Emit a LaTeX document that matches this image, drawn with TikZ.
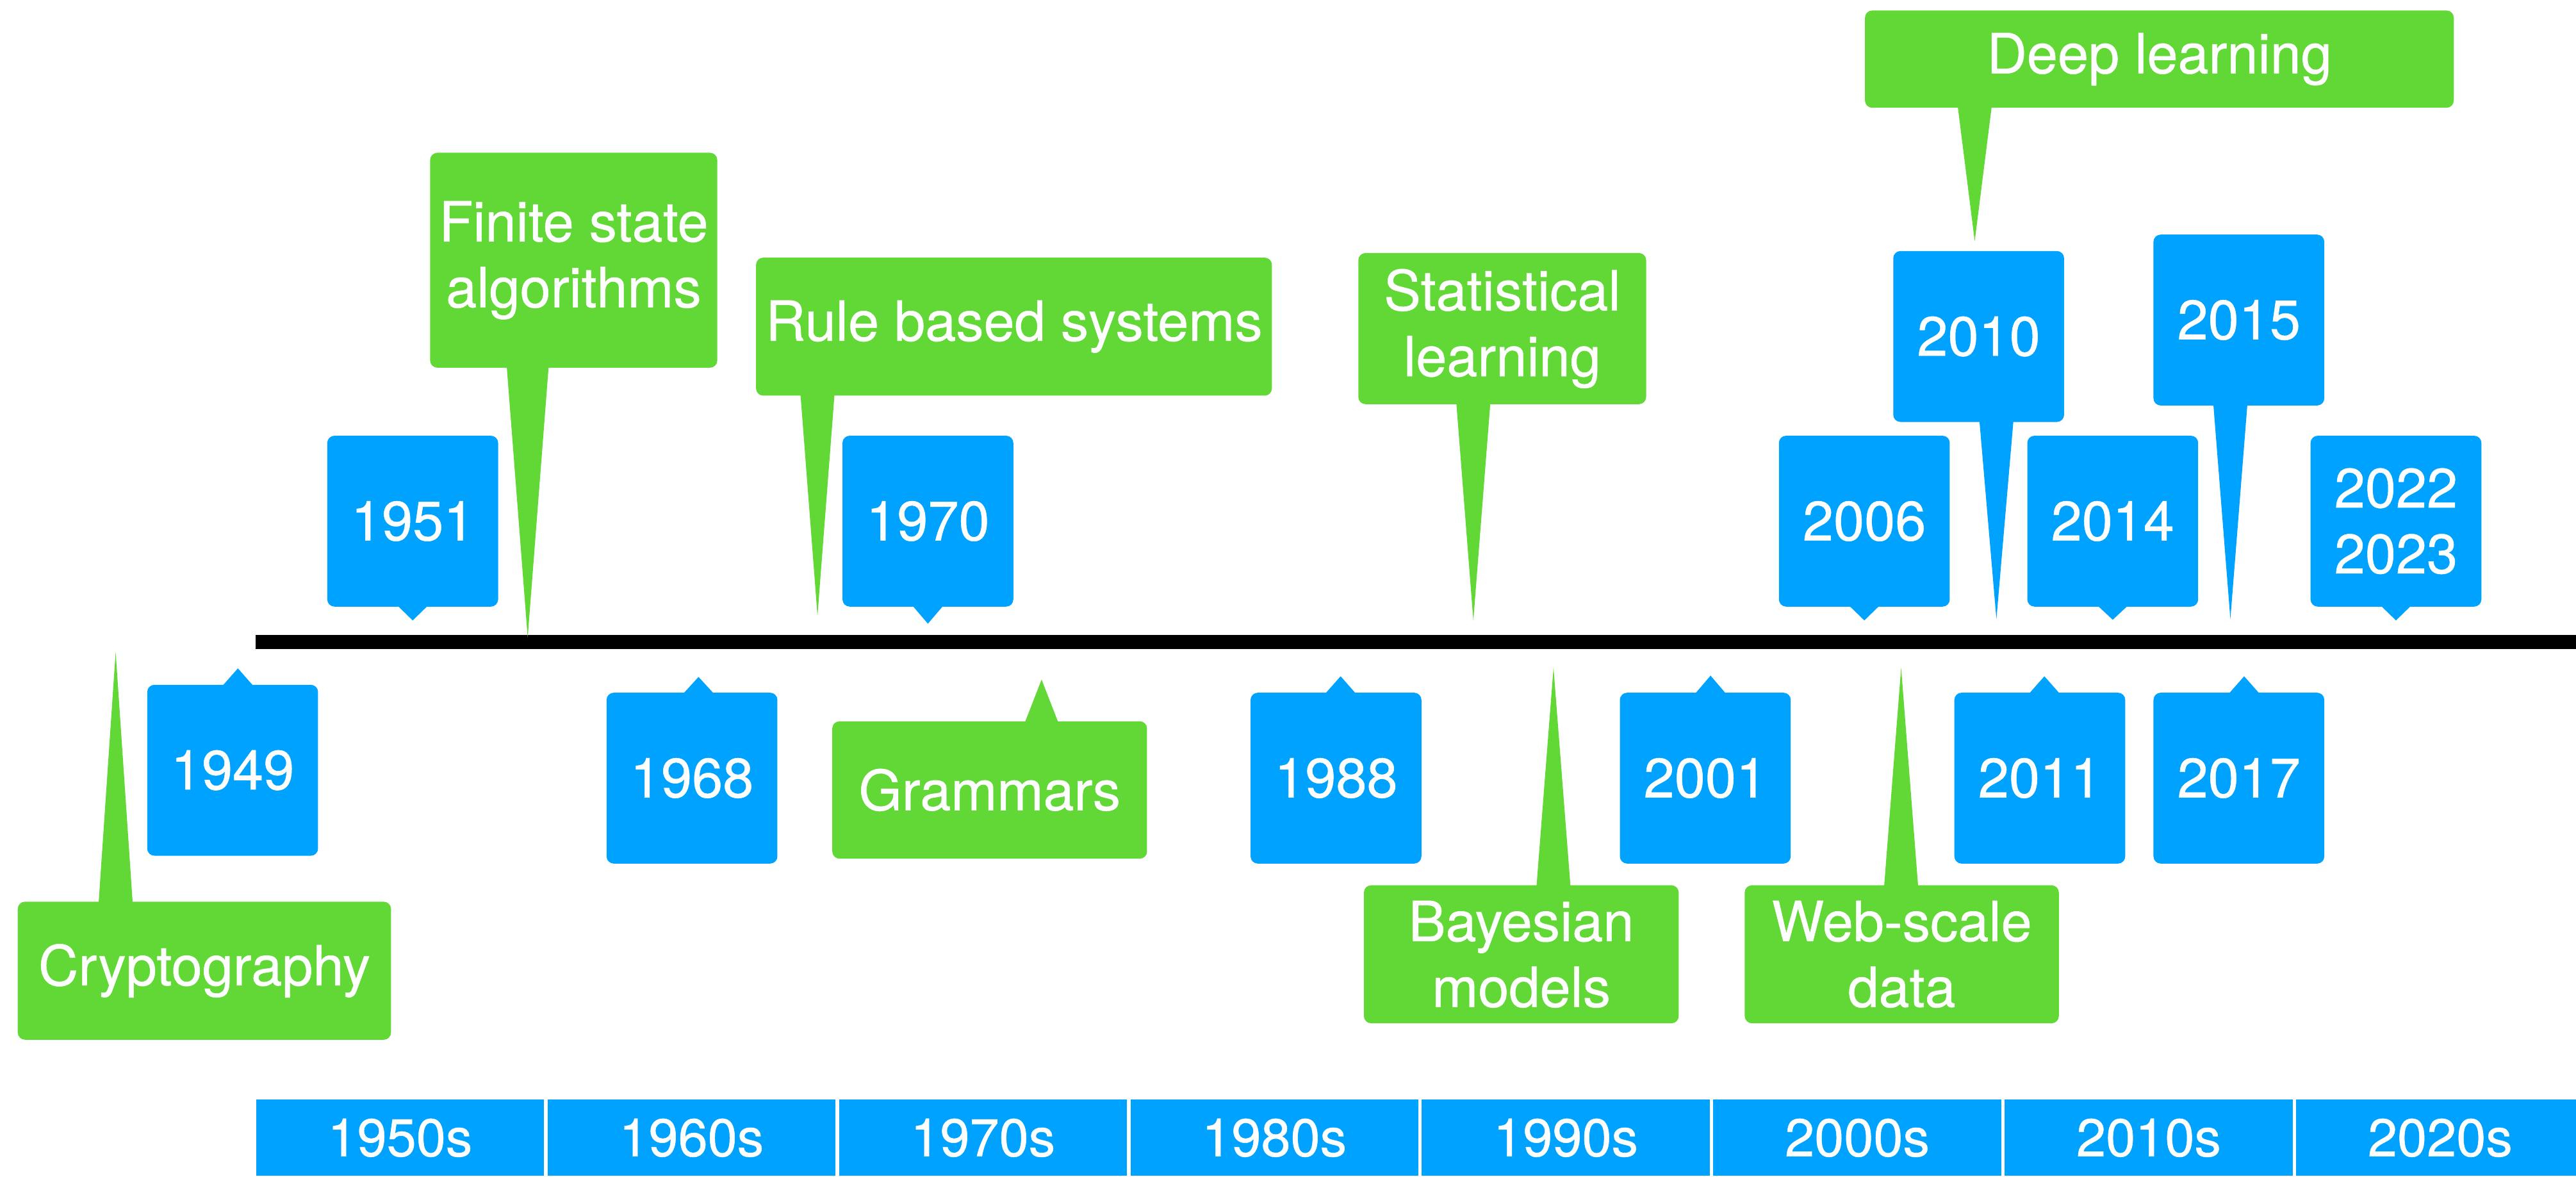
\documentclass[tikz,border=0pt]{standalone}
\usepackage{fontspec}
\setmainfont{TeX Gyre Heros}[FakeBold=0.6]
\usetikzlibrary{calc}

\definecolor{kblue}{HTML}{00A2FF}
\definecolor{kgreen}{HTML}{61D836}

% pointer of a callout: colour, edge anchor of the box, tip, half width of the base
\newcommand{\calltail}[4]{%
  \fill[#1] ($(#3 |- #2)!-0.04cm!(#3)+(-#4,0)$) -- (#3) -- ($(#3 |- #2)!-0.04cm!(#3)+(#4,0)$) -- cycle;}

\begin{document}
\begin{tikzpicture}[
  font=\fontsize{24}{28.5}\selectfont,
  yearbox/.style={fill=kblue, text=white, rounded corners=1.1mm, inner sep=0pt,
    minimum width=2.6cm, minimum height=2.6cm, align=center},
  topicbox/.style={fill=kgreen, text=white, rounded corners=1.1mm, inner sep=0pt, align=center},
  decadebox/.style={fill=kblue, text=white, inner sep=0pt, anchor=south west,
    minimum width=4.38cm, minimum height=1.16cm, font=\fontsize{23}{27}\selectfont},
]
\useasboundingbox (0,0) rectangle (39.2,17.9);

% decades along the bottom
\foreach \d [count=\i from 0] in {1950s,1960s,1970s,1980s,1990s,2000s,2010s,2020s}
  \node[decadebox] (d\d) at (3.89+4.435*\i,0) {\d};

% time axis
\coordinate (axisL) at (3.89,8.13);
\coordinate (axisR) at (39.2,8.13);
\draw[line width=6.1pt] (axisL) -- (axisR);

% years above the axis
\node[yearbox] (y1951) at (6.28,9.97) {1951};
\node[yearbox] (y1970) at (14.12,9.97) {1970};
\node[yearbox] (y2006) at (28.37,9.97) {2006};
\node[yearbox] (y2014) at (32.15,9.97) {2014};
\node[yearbox] (y2022) at (36.46,9.97) {2022\\2023};
\node[yearbox] (y2010) at (30.11,12.78) {2010};
\node[yearbox] (y2015) at (34.07,13.03) {2015};
% years below the axis
\node[yearbox] (y1949) at (3.54,6.18) {1949};
\node[yearbox] (y1968) at (10.53,6.06) {1968};
\node[yearbox] (y1988) at (20.33,6.06) {1988};
\node[yearbox] (y2001) at (25.95,6.06) {2001};
\node[yearbox] (y2011) at (31.04,6.06) {2011};
\node[yearbox] (y2017) at (34.07,6.06) {2017};

\coordinate (t1951) at (6.28,8.46);
\coordinate (t1970) at (14.12,8.41);
\coordinate (t2006) at (28.37,8.46);
\coordinate (t2014) at (32.15,8.47);
\coordinate (t2022) at (36.46,8.46);
\coordinate (t2010) at (30.38,8.48);
\coordinate (t2015) at (33.94,8.48);
\coordinate (t1949) at (3.62,7.73);
\coordinate (t1968) at (10.63,7.60);
\coordinate (t1988) at (20.40,7.61);
\coordinate (t2001) at (26.03,7.62);
\coordinate (t2011) at (31.11,7.61);
\coordinate (t2017) at (34.15,7.61);

\calltail{kblue}{y1951.south}{t1951}{0.25}
\calltail{kblue}{y1970.south}{t1970}{0.25}
\calltail{kblue}{y2006.south}{t2006}{0.25}
\calltail{kblue}{y2014.south}{t2014}{0.25}
\calltail{kblue}{y2022.south}{t2022}{0.25}
\calltail{kblue}{y2010.south}{t2010}{0.26}
\calltail{kblue}{y2015.south}{t2015}{0.26}
\calltail{kblue}{y1949.north}{t1949}{0.25}
\calltail{kblue}{y1968.north}{t1968}{0.25}
\calltail{kblue}{y1988.north}{t1988}{0.25}
\calltail{kblue}{y2001.north}{t2001}{0.25}
\calltail{kblue}{y2011.north}{t2011}{0.25}
\calltail{kblue}{y2017.north}{t2017}{0.25}

% topics
\node[topicbox, minimum width=5.68cm, minimum height=2.1cm] (crypto) at (3.11,3.13) {Cryptography};
\node[topicbox, minimum width=4.37cm, minimum height=3.27cm] (finite) at (8.73,13.94) {Finite state\\algorithms};
\node[topicbox, minimum width=7.85cm, minimum height=2.1cm] (rules) at (15.43,12.93) {Rule based systems};
\node[topicbox, minimum width=4.79cm, minimum height=2.09cm] (grammar) at (15.06,5.88) {Grammars};
\node[topicbox, minimum width=4.38cm, minimum height=2.3cm] (stat) at (22.86,12.9) {Statistical\\learning};
\node[topicbox, minimum width=4.79cm, minimum height=2.1cm] (bayes) at (23.15,3.38) {Bayesian\\models};
\node[topicbox, minimum width=4.78cm, minimum height=2.1cm] (web) at (28.94,3.38) {Web-scale\\data};
\node[topicbox, minimum width=8.96cm, minimum height=1.48cm] (deep) at (32.86,17.0) {Deep learning};

\coordinate (tcrypto) at (1.76,7.98);
\coordinate (tfinite) at (8.03,8.2);
\coordinate (trules) at (12.44,8.53);
\coordinate (tgrammar) at (15.85,7.56);
\coordinate (tstat) at (22.42,8.46);
\coordinate (tbayes) at (23.64,7.74);
\coordinate (tweb) at (28.93,7.74);
\coordinate (tdeep) at (30.05,14.23);

\calltail{kgreen}{crypto.north}{tcrypto}{0.26}
\calltail{kgreen}{finite.south}{tfinite}{0.32}
\calltail{kgreen}{rules.south}{trules}{0.26}
\calltail{kgreen}{grammar.north}{tgrammar}{0.26}
\calltail{kgreen}{stat.south}{tstat}{0.26}
\calltail{kgreen}{bayes.north}{tbayes}{0.26}
\calltail{kgreen}{web.north}{tweb}{0.26}
\calltail{kgreen}{deep.south}{tdeep}{0.26}

\end{tikzpicture}
\end{document}
